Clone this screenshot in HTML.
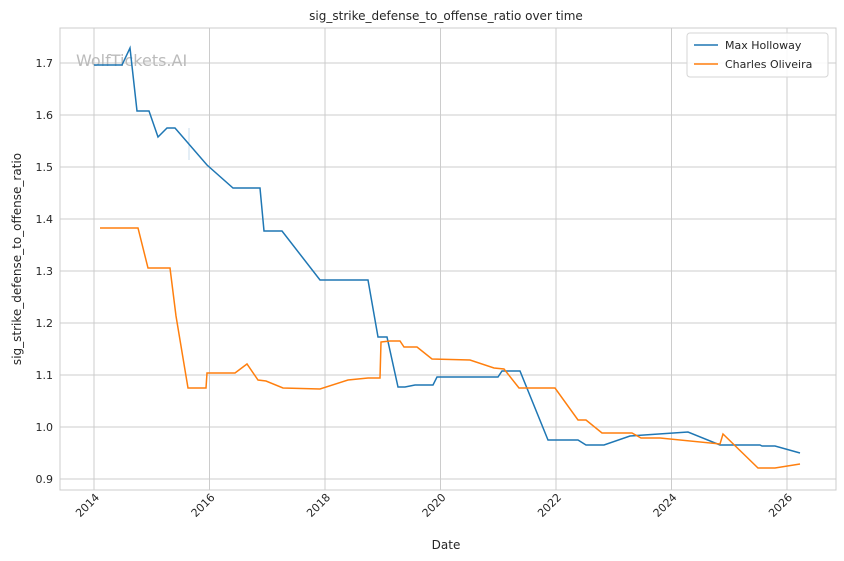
<!DOCTYPE html>
<html><head><style>body{margin:0;background:#fff}svg{display:block;font-family:"DejaVu Sans","Liberation Sans",sans-serif}</style></head><body>
<svg width="844" height="561" viewBox="0 0 844 561">
<rect x="0" y="0" width="844" height="561" fill="#fff"/>
<g stroke="#cccccc" stroke-width="1">
<line x1="94" y1="28" x2="94" y2="490"/><line x1="209.5" y1="28" x2="209.5" y2="490"/><line x1="325" y1="28" x2="325" y2="490"/><line x1="440.5" y1="28" x2="440.5" y2="490"/><line x1="556" y1="28" x2="556" y2="490"/><line x1="671.5" y1="28" x2="671.5" y2="490"/><line x1="787" y1="28" x2="787" y2="490"/>
<line x1="60" y1="63" x2="836" y2="63"/><line x1="60" y1="115" x2="836" y2="115"/><line x1="60" y1="167" x2="836" y2="167"/><line x1="60" y1="219" x2="836" y2="219"/><line x1="60" y1="271" x2="836" y2="271"/><line x1="60" y1="323" x2="836" y2="323"/><line x1="60" y1="375" x2="836" y2="375"/><line x1="60" y1="427" x2="836" y2="427"/><line x1="60" y1="479" x2="836" y2="479"/>
</g>
<rect x="60" y="28" width="776" height="462" fill="none" stroke="#cccccc" stroke-width="1"/>
<text x="76" y="66" font-size="16" fill="#bbbbbb">WolfTickets.AI</text>
<line x1="189" y1="128" x2="189" y2="160" stroke="#c8dcec" stroke-width="1"/>
<polyline fill="none" stroke="#1f77b4" stroke-width="1.5" points="94,65 122,65 130,48 137,111 149,111 158,137 167,128 175,128 207,165 233,188 260,188 264,231 282,231 320,280 368,280 378,337 387,337 398,387 405,387 415,385 433,385 437,377 498,377 502,371 520,371 548,440 578,440 586,445 604,445 630,436 688,432 720,445 760,445 762,446 775,446 800,453"/>
<polyline fill="none" stroke="#ff7f0e" stroke-width="1.5" points="100,228 138,228 148,268 170,268 176,316 188,388 206,388 207,373 235,373 247,364 258,380 266,381 283,388 320,389 348,380 368,378 380,378 381,342 390,341 400,341 404,347 417,347 432,359 470,360 494,368 504,369 519,388 555,388 578,420 586,420 602,433 632,433 641,438 660,438 720,444 723,434 758,468 775,468 800,464"/>
<g font-size="11" fill="#262626" text-anchor="end">
<text x="53" y="67">1.7</text><text x="53" y="119">1.6</text><text x="53" y="171">1.5</text><text x="53" y="223">1.4</text><text x="53" y="275">1.3</text><text x="53" y="327">1.2</text><text x="53" y="379">1.1</text><text x="53" y="431">1.0</text><text x="53" y="483">0.9</text>
</g>
<g font-size="11" fill="#262626" text-anchor="end">
<text transform="translate(100,498) rotate(-45)">2014</text><text transform="translate(215.5,498) rotate(-45)">2016</text><text transform="translate(331,498) rotate(-45)">2018</text><text transform="translate(446.5,498) rotate(-45)">2020</text><text transform="translate(562,498) rotate(-45)">2022</text><text transform="translate(677.5,498) rotate(-45)">2024</text><text transform="translate(793,498) rotate(-45)">2026</text>
</g>
<text x="446" y="549" font-size="12" fill="#262626" text-anchor="middle">Date</text>
<text transform="translate(21,259) rotate(-90)" font-size="12" fill="#262626" text-anchor="middle">sig_strike_defense_to_offense_ratio</text>
<text x="446" y="20" font-size="12" fill="#262626" text-anchor="middle">sig_strike_defense_to_offense_ratio over time</text>
<rect x="687" y="33" width="141" height="44" rx="3" fill="#fff" fill-opacity="0.85" stroke="#d6d6d6"/>
<line x1="694" y1="45" x2="718" y2="45" stroke="#1f77b4" stroke-width="1.5"/>
<text x="725" y="49" font-size="11" fill="#262626">Max Holloway</text>
<line x1="694" y1="64" x2="718" y2="64" stroke="#ff7f0e" stroke-width="1.5"/>
<text x="725" y="68" font-size="11" fill="#262626">Charles Oliveira</text>
</svg>
</body></html>
